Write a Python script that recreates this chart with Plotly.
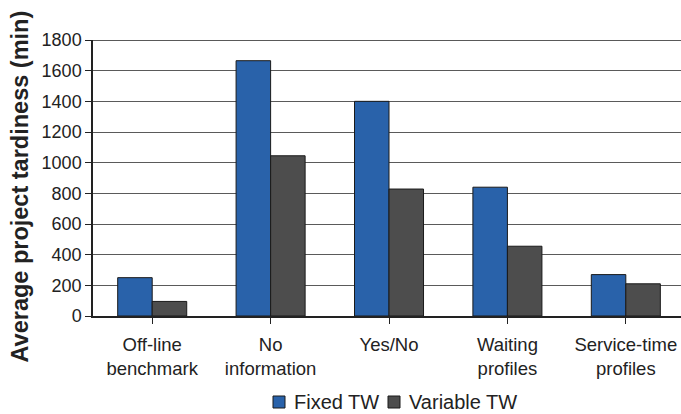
import plotly.graph_objects as go

categories = ["Off-line<br>benchmark", "No<br>information", "Yes/No", "Waiting<br>profiles", "Service-time<br>profiles"]
fixed_tw = [250, 1665, 1400, 840, 270]
variable_tw = [95, 1045, 828, 455, 210]
y_ticks = [0, 200, 400, 600, 800, 1000, 1200, 1400, 1600, 1800]

BLUE = "#2962AA"
GRAY = "#4D4D4D"
FONT = "Liberation Sans, Arial, sans-serif"
TXT = "#222222"

W, H = 681, 414
L, R, T, B = 93, 0, 40, 98
PW, PH = W - L - R, H - T - B

def px2x(px):
    return (px - L) / PW

def py2y(py):
    return (H - B - py) / PH

xs = list(range(len(categories)))

fig = go.Figure()
fig.add_trace(go.Bar(x=xs, y=fixed_tw, name="Fixed TW",
                     marker=dict(color=BLUE, line=dict(color="#1a1a1a", width=1))))
fig.add_trace(go.Bar(x=xs, y=variable_tw, name="Variable TW",
                     marker=dict(color=GRAY, line=dict(color="#1a1a1a", width=1))))

fig.update_layout(
    width=W, height=H,
    margin=dict(l=L, r=R, t=T, b=B),
    paper_bgcolor="white", plot_bgcolor="white",
    barmode="group", bargap=0.417, bargroupgap=0,
    showlegend=False,
    font=dict(family=FONT, color=TXT),
)
fig.update_xaxes(
    tickmode="array", tickvals=xs, ticktext=categories,
    range=[-0.5, 4.466],
    tickfont=dict(size=18.5, family=FONT, color=TXT),
    ticklabelstandoff=5,
    showline=True, linecolor="#222222", linewidth=1.5,
    ticks="outside", tickson="boundaries", ticklen=6, tickcolor="#222222", tickwidth=1,
    showgrid=False, zeroline=False, automargin=False,
)
fig.update_yaxes(
    range=[0, 1800], tickmode="array", tickvals=y_ticks,
    tickfont=dict(size=18, family=FONT, color=TXT),
    showline=True, linecolor="#222222", linewidth=1.5,
    ticks="outside", ticklen=6, tickcolor="#222222",
    showgrid=True, gridcolor="#5a5a5a", gridwidth=1,
    zeroline=False, automargin=False,
)
# top border line (1800 gridline is darker)
fig.add_shape(type="line", xref="paper", yref="y", x0=0, x1=1, y0=1800, y1=1800,
              line=dict(color="#222222", width=1.5))

fig.add_annotation(
    text="<b>Average project tardiness (min)</b>",
    xref="paper", yref="paper", x=px2x(19), y=py2y(186.5),
    xanchor="center", yanchor="middle", textangle=-90, showarrow=False,
    font=dict(size=23.5, family=FONT, color=TXT),
)

# legend
legend_items = [("Fixed TW", BLUE, 273, 292), ("Variable TW", GRAY, 388, 407)]
for name, col, sq_left, txt_left in legend_items:
    fig.add_shape(type="rect", xref="paper", yref="paper",
                  x0=px2x(sq_left), x1=px2x(sq_left + 12),
                  y0=py2y(408), y1=py2y(396),
                  fillcolor=col, line=dict(color="#1a1a1a", width=1))
    fig.add_annotation(text=name, xref="paper", yref="paper",
                       x=px2x(txt_left), y=py2y(402), xanchor="left", yanchor="middle",
                       showarrow=False, font=dict(size=20, family=FONT, color=TXT))

fig.write_html("out.html", config={"displayModeBar": False},
               post_script="document.body.style.margin='0';document.body.style.overflow='hidden';")
